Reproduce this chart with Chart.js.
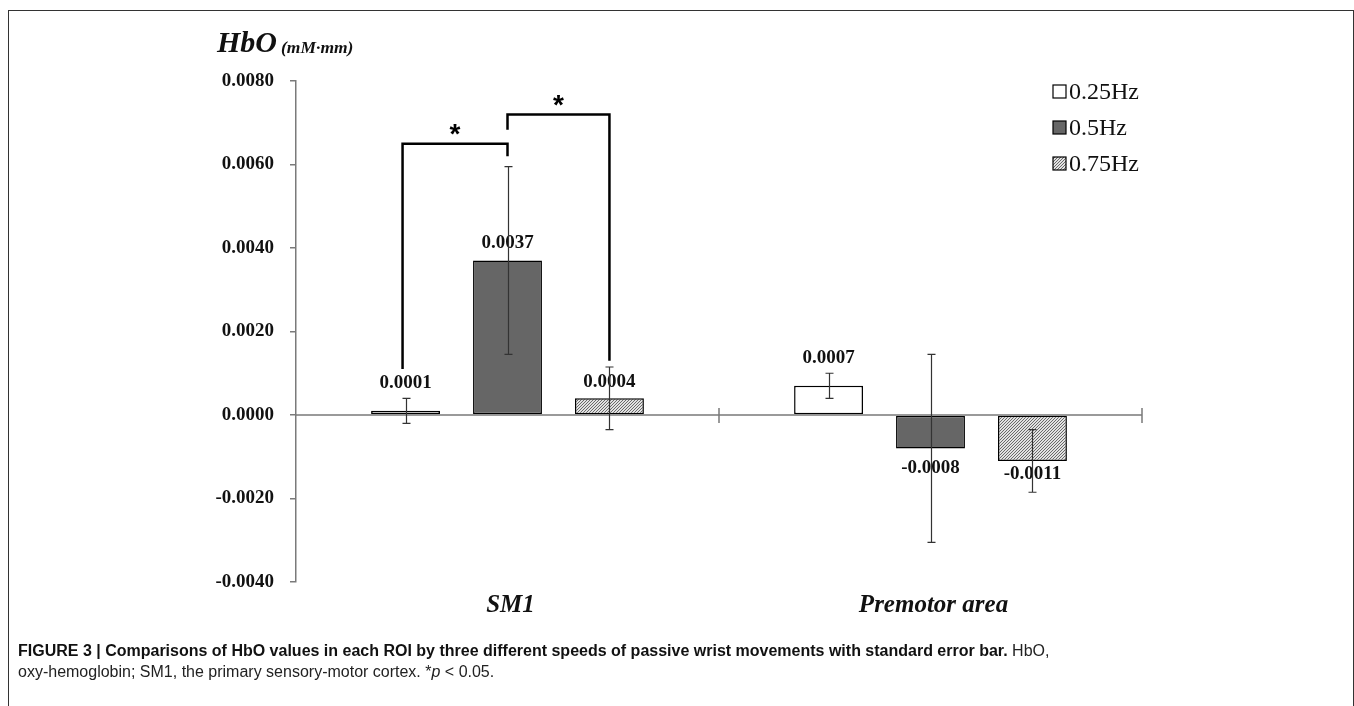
<!DOCTYPE html>
<html>
<head>
<meta charset="utf-8">
<script src="https://cdn.jsdelivr.net/npm/chart.js@4.4.1/dist/chart.umd.min.js"></script>
<style>
  html, body { margin: 0; padding: 0; background: #fff; }
  #frame { position: absolute; left: 8px; top: 10px; width: 1346px; height: 760px; border: 1.5px solid #333; box-sizing: border-box; }
  #chart { position: absolute; left: 0; top: 0; }
  #caption { position: absolute; left: 18px; top: 640px; width: 1320px; font: 16px "Liberation Sans", Arial, sans-serif; line-height: 21px; color: #222; }
  #caption b { color: #111; }
</style>
</head>
<body>
<div id="frame"></div>
<canvas id="chart" width="1354" height="706"></canvas>
<div id="caption"><b>FIGURE 3 | Comparisons of HbO values in each ROI by three different speeds of passive wrist movements with standard error bar.</b> HbO,<br>oxy-hemoglobin; SM1, the primary sensory-motor cortex. *<i>p</i> &lt; 0.05.</div>
<script>
// --------- data ----------
const categories = ["SM1", "Premotor area"];
const seriesNames = ["0.25Hz", "0.5Hz", "0.75Hz"];
const hz025 = [0.0001, 0.0007];
const hz05  = [0.0037, -0.0008];
const hz075 = [0.0004, -0.0011];
// standard error (half length of the error bar)
const err025 = [0.0003, 0.0003];
const err05  = [0.00225, 0.00225];
const err075 = [0.00075, 0.00075];
const yMin = -0.004, yMax = 0.008, yStep = 0.002;
// significance brackets: [dataset a, dataset b, category, top, left end, right end]
const sigBrackets = [
  [0, 1, 0, 0.0065, 0.0011, 0.0062],
  [1, 2, 0, 0.0072, 0.00683, 0.0013]
];

const errors = [err025, err05, err075];
const serif = "'Liberation Serif', 'Times New Roman', serif";

// hatch for 0.75Hz
function hatch() {
  const c = document.createElement("canvas");
  c.width = 3; c.height = 3;
  const g = c.getContext("2d");
  g.fillStyle = "#e2e2e2";
  g.fillRect(0, 0, 3, 3);
  g.fillStyle = "#6a6a6a";
  // one diagonal pixel per row, bottom-left to top-right
  g.fillRect(2, 0, 1, 1);
  g.fillRect(1, 1, 1, 1);
  g.fillRect(0, 2, 1, 1);
  return g.createPattern(c, "repeat");
}
const fills = ["#ffffff", "#666666", hatch()];

// label offsets (px) from the bar end, as placed in the figure
const labelGap = [[28, 28], [17, 20], [16, 13]];

const extras = {
  id: "extras",
  afterDatasetsDraw(chart) {
    const ctx = chart.ctx;
    const x = chart.scales.x, y = chart.scales.y;
    const area = chart.chartArea;
    const y0 = y.getPixelForValue(0);
    ctx.save();

    // zero line + category ticks
    ctx.strokeStyle = "#7a7a7a";
    ctx.lineWidth = 1.5;
    ctx.beginPath();
    ctx.moveTo(area.left, y0); ctx.lineTo(area.right, y0);
    const step = (area.right - area.left) / categories.length;
    for (let i = 1; i <= categories.length; i++) {
      const tx = Math.round(area.left + step * i);
      ctx.moveTo(tx, y0 - 7); ctx.lineTo(tx, y0 + 8);
    }
    ctx.stroke();

    // value labels
    ctx.fillStyle = "#111";
    ctx.font = "bold 19px " + serif;
    ctx.textAlign = "center";
    ctx.textBaseline = "middle";
    chart.data.datasets.forEach((ds, di) => {
      chart.getDatasetMeta(di).data.forEach((bar, i) => {
        const v = ds.data[i];
        const ly = v >= 0 ? bar.y - labelGap[di][i] : bar.y + labelGap[di][i];
        ctx.fillText(v.toFixed(4), bar.x, ly);
      });
    });

    // error bars
    ctx.strokeStyle = "#333";
    ctx.lineWidth = 1.2;
    chart.data.datasets.forEach((ds, di) => {
      chart.getDatasetMeta(di).data.forEach((bar, i) => {
        const v = ds.data[i], e = errors[di][i];
        const t = y.getPixelForValue(v + e), b = y.getPixelForValue(v - e);
        const bx = Math.round(bar.x) + 0.5;
        ctx.beginPath();
        ctx.moveTo(bx, t); ctx.lineTo(bx, b);
        ctx.moveTo(bx - 4, t); ctx.lineTo(bx + 4, t);
        ctx.moveTo(bx - 4, b); ctx.lineTo(bx + 4, b);
        ctx.stroke();
      });
    });

    // significance brackets
    ctx.strokeStyle = "#000";
    ctx.lineWidth = 2.5;
    ctx.fillStyle = "#000";
    ctx.font = "bold 28px 'Liberation Sans', Arial, sans-serif";
    sigBrackets.forEach(([a, b, c, top, lEnd, rEnd]) => {
      const xa = chart.getDatasetMeta(a).data[c].x - (a === 0 ? 3 : 0);
      const xb = chart.getDatasetMeta(b).data[c].x;
      const yt = y.getPixelForValue(top);
      ctx.beginPath();
      ctx.moveTo(xa, y.getPixelForValue(lEnd));
      ctx.lineTo(xa, yt);
      ctx.lineTo(xb, yt);
      ctx.lineTo(xb, y.getPixelForValue(rEnd));
      ctx.stroke();
      ctx.fillText("*", (xa + xb) / 2, yt - 8);
    });

    // category labels
    ctx.font = "italic bold 25px " + serif;
    ctx.fillStyle = "#111";
    categories.forEach((c, i) => ctx.fillText(c, x.getPixelForValue(i) + 3, 606));

    // title
    ctx.textAlign = "left";
    ctx.textBaseline = "alphabetic";
    ctx.font = "italic bold 30px " + serif;
    ctx.fillText("HbO", 217, 52);
    ctx.font = "italic bold 17.5px " + serif;
    ctx.fillText("(mM\u00b7mm)", 281, 53);

    // legend
    ctx.textBaseline = "middle";
    ctx.font = "24px " + serif;
    seriesNames.forEach((n, i) => {
      const ly = 92 + i * 36;
      ctx.fillStyle = fills[i];
      ctx.fillRect(1053, ly - 7, 13, 13);
      ctx.strokeStyle = "#000";
      ctx.lineWidth = 1.2;
      ctx.strokeRect(1053, ly - 7, 13, 13);
      ctx.fillStyle = "#111";
      ctx.fillText(n, 1069, ly + 1);
    });
    ctx.restore();
  }
};

const datasets = [hz025, hz05, hz075].map((d, i) => ({
  label: seriesNames[i],
  data: d,
  backgroundColor: fills[i],
  borderColor: "#000",
  borderWidth: 1.5,
  borderSkipped: false,
  categoryPercentage: 0.723,
  barPercentage: 0.676
}));

new Chart(document.getElementById("chart"), {
  type: "bar",
  data: { labels: categories, datasets },
  options: {
    responsive: false,
    animation: false,
    layout: { padding: { left: 0, top: 81, right: 212, bottom: 124 } },
    plugins: { legend: { display: false }, tooltip: { enabled: false } },
    scales: {
      x: { display: false },
      y: {
        min: yMin, max: yMax,
        afterFit: s => { s.width = 296; },
        border: { color: "#7a7a7a", width: 1.5 },
        grid: { drawOnChartArea: false, tickLength: 6, color: "#7a7a7a", lineWidth: 1.5 },
        ticks: {
          stepSize: yStep,
          padding: 16,
          color: "#111",
          font: { family: serif, size: 19, weight: "bold" },
          callback: v => (Math.abs(v) < 1e-10 ? 0 : v).toFixed(4)
        }
      }
    }
  },
  plugins: [extras]
});
</script>
</body>
</html>
